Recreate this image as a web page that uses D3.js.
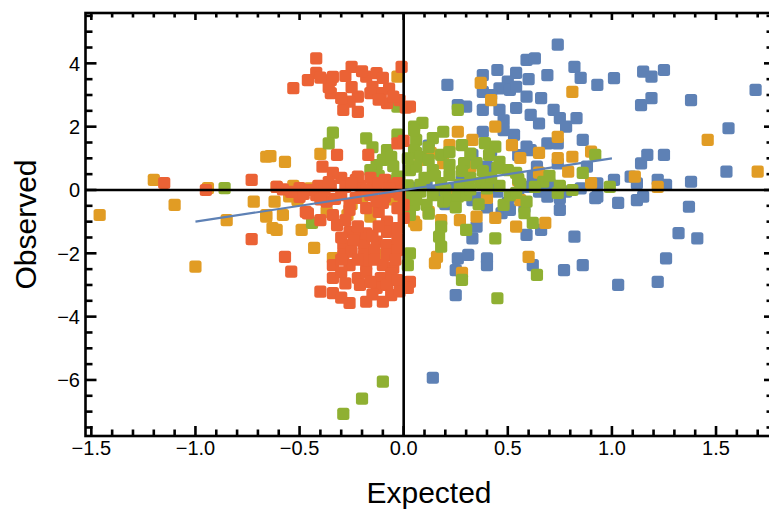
<!DOCTYPE html>
<html><head><meta charset="utf-8">
<script src="https://cdn.jsdelivr.net/npm/d3@7"></script>
<style>body{margin:0;background:#fff}svg{display:block}text{font-family:"Liberation Sans",Arial,sans-serif}</style>
</head><body><svg id="c" width="769" height="510"></svg>
<script>
const xTicks = [-1.5,-1.0,-0.5,0.0,0.5,1.0,1.5];
const yTicks = [-6,-4,-2,0,2,4];
const xRange = [-1.528, 1.764];
const yRange = [-7.77, 5.59];
const lineX = [-1, 1];
const lineY = [-1, 1];
const blue = [
[0.74,4.59],[0.59,4.11],[0.63,4.16],[0.45,3.79],[0.54,3.70],[0.82,3.89],[0.21,3.32],[0.38,3.63],[0.69,3.63],[0.85,3.54],
[0.50,3.42],[0.46,3.21],[0.51,3.16],[0.54,3.26],[0.59,2.95],[0.66,2.90],[0.93,3.32],[0.38,3.10],[0.26,2.68],[0.30,2.63],
[0.38,2.53],[0.46,2.53],[0.54,2.59],[0.61,2.37],[0.72,2.53],[0.75,2.27],[0.78,2.00],[0.83,2.27],[0.38,1.84],[0.48,1.89],
[0.53,1.74],[0.69,1.47],[0.74,1.47],[0.86,1.58],[0.61,1.26],[0.33,1.11],[0.40,0.74],[0.64,0.74],[0.62,0.42],[0.74,0.84],
[0.88,0.74],[1.15,3.74],[1.19,3.58],[1.25,3.79],[1.01,3.53],[1.14,2.68],[1.19,2.90],[1.38,2.84],[1.69,3.16],[1.56,1.95],
[1.14,0.84],[1.17,1.11],[1.25,1.11],[1.55,0.58],[1.38,0.26],[1.01,0.32],[0.93,0.21],[1.12,0.21],[1.09,0.42],[1.22,0.32],
[1.26,0.16],[0.93,-0.21],[1.03,-0.41],[1.12,-0.32],[1.15,-0.21],[1.37,-0.53],[1.32,-1.36],[1.41,-1.53],[1.26,-2.16],[1.03,-3.00],
[1.22,-2.90],[0.05,0.06],[0.11,0.16],[0.37,-0.25],[0.47,-0.73],[0.35,-1.16],[0.33,-1.53],[0.59,-1.42],[0.66,-1.26],[0.69,-0.21],
[0.75,-0.26],[0.75,-0.63],[0.78,-0.05],[0.92,-0.26],[0.82,-1.47],[0.26,-2.16],[0.31,-2.05],[0.40,-2.16],[0.40,-2.37],[0.25,-2.53],
[0.62,-2.37],[0.77,-2.53],[0.86,-2.37],[0.25,-3.32],[0.51,-0.63],[0.14,-5.93],[0.59,1.37],[0.33,-0.32],[0.15,-0.05],[0.25,0.05],
[0.45,-0.05],[0.60,0.10],[0.55,-0.20],[0.20,-0.45],[0.12,1.40],[0.30,-0.10],[0.42,0.12],[0.50,-0.40],[0.65,-0.05],[0.70,0.20],
[0.58,-0.55],[0.40,-0.55],[0.85,0.05],[0.28,0.30],[0.42,1.25],[0.55,1.10],[0.48,2.20],[0.65,2.10],[0.42,3.00],[0.60,3.50]
];
const orange = [
[-1.20,0.32],[-1.46,-0.79],[-1.10,-0.47],[-1.00,-2.42],[-0.72,-0.37],[-0.85,-0.95],[-0.66,-0.84],[-0.66,1.05],[-0.94,0.06],[-0.64,1.07],
[-0.57,0.89],[-0.40,1.14],[-0.53,0.13],[-0.03,3.58],[-0.62,-0.37],[-0.51,-0.32],[-0.66,-0.79],[-0.58,-0.79],[-0.63,-1.20],[-0.49,-1.26],
[-0.43,-1.83],[-0.34,-2.15],[-0.10,-2.05],[-0.27,-0.79],[-0.16,-0.84],[-0.15,-0.69],[-0.37,-0.69],[0.05,-1.00],[-0.61,0.10],[-0.61,-1.26],
[0.37,3.38],[0.42,2.84],[0.81,3.10],[0.44,2.00],[0.26,1.84],[0.52,1.42],[0.74,1.68],[0.22,1.42],[0.56,1.01],[0.65,1.17],
[0.74,1.01],[0.81,1.05],[0.79,0.58],[0.90,0.22],[0.90,1.21],[0.33,1.58],[0.13,1.17],[1.46,1.58],[1.70,0.58],[1.11,0.42],
[1.22,0.10],[0.12,-0.69],[0.06,-1.11],[0.27,-0.95],[0.35,-0.84],[0.44,-0.88],[0.54,-1.16],[0.68,-1.04],[0.16,-2.11],[0.15,-2.31],
[0.28,-2.62],[0.60,-2.11],[0.40,-0.25],[0.56,-0.32],[0.18,-0.95],[0.32,0.74],[0.19,0.85],[-0.45,0.05],[-0.25,-0.45],[-0.05,-0.30],
[0.25,-0.15],[0.55,0.30],[0.65,0.55],[-0.20,-0.25],[-0.55,-0.20],[0.08,0.95]
];
const green = [
[-0.34,1.81],[-0.36,1.47],[-0.18,1.63],[-0.08,1.26],[-0.10,0.95],[-0.06,1.05],[-0.13,0.79],[-0.16,0.63],[-0.03,2.63],[0.05,2.00],
[0.06,1.58],[0.06,1.17],[0.03,0.63],[-0.02,0.42],[0.26,2.53],[0.09,2.12],[0.05,1.89],[0.19,1.84],[0.14,1.64],[0.28,1.42],
[0.39,1.48],[0.44,1.37],[0.41,1.11],[0.05,1.26],[0.08,1.05],[0.18,1.11],[0.29,0.85],[0.35,0.85],[0.46,0.89],[0.06,0.74],
[0.14,0.63],[0.92,1.11],[0.86,0.54],[0.67,0.26],[0.50,0.63],[0.54,0.54],[0.08,0.16],[0.18,0.22],[0.27,0.16],[0.37,0.22],
[0.46,0.13],[0.56,0.19],[0.75,0.13],[0.22,0.47],[0.32,0.38],[0.42,0.38],[0.10,0.38],[0.03,-0.16],[0.08,-0.05],[0.14,-0.16],
[0.19,-0.37],[0.03,-0.79],[0.11,-0.47],[0.18,-1.16],[0.17,-1.47],[0.18,-1.79],[0.30,-1.26],[0.44,-1.53],[0.03,-2.00],[0.02,-2.37],
[0.28,-2.84],[0.45,-3.42],[0.64,-2.68],[0.62,-1.04],[0.58,-0.73],[0.48,-0.47],[0.59,-0.37],[0.22,-0.32],[0.26,-0.21],[0.30,-0.16],
[0.51,-0.16],[0.54,-0.09],[0.74,-0.09],[0.81,0.00],[-0.44,-1.04],[0.05,-0.47],[-0.86,0.06],[0.99,0.10],[-0.10,-6.05],[-0.20,-6.59],
[-0.29,-7.07],[-0.05,0.75],[-0.03,0.40],[-0.08,0.30],[0.02,1.00],[0.12,1.35],[0.22,1.20],[0.32,1.15],[0.12,0.95],[0.22,0.80],
[0.38,0.60],[0.02,0.15],[0.15,0.45],[0.28,0.60],[0.45,0.70],[0.55,0.35],[0.63,0.10],[0.70,0.45],[0.40,0.05],[0.20,0.00],
[0.32,0.02],[0.06,-0.30],[0.12,-0.75],[0.25,-0.55],[0.36,-0.45],[-0.12,0.45],[-0.15,1.35],[-0.03,1.75]
];
const red = [
[-0.42,4.16],[-0.25,3.89],[-0.01,3.89],[-0.42,3.70],[-0.46,3.47],[-0.53,3.22],[-0.35,3.47],[-0.34,3.57],[-0.35,3.06],[-0.36,3.25],
[-0.18,3.58],[-0.13,3.69],[-0.10,3.54],[-0.15,3.26],[-0.11,3.06],[-0.16,3.06],[-0.22,2.95],[-0.26,2.79],[-0.29,2.53],[-0.22,2.47],
[-0.08,2.74],[0.03,2.63],[-0.02,2.84],[-0.03,1.47],[-0.32,1.11],[-0.17,1.11],[-0.39,0.74],[-0.73,0.32],[-0.30,0.38],[-0.23,0.32],
[-0.16,0.38],[-0.09,0.32],[-0.03,0.22],[-0.35,0.13],[-0.41,0.13],[-0.50,0.06],[-0.21,0.13],[-0.14,0.06],[-0.05,0.13],[-0.61,0.10],
[-0.95,0.00],[-1.15,0.22],[-0.73,-1.55],[-0.57,-2.11],[-0.54,-2.58],[-0.42,-0.16],[-0.37,-0.37],[-0.47,-0.69],[-0.34,-0.79],[-0.32,-1.11],
[-0.26,-1.32],[-0.21,-1.42],[-0.08,-1.00],[-0.08,-1.32],[-0.29,-1.74],[-0.19,-1.74],[-0.13,-1.63],[-0.08,-1.74],[-0.29,-2.05],[-0.19,-2.05],
[-0.08,-2.05],[-0.34,-2.37],[-0.26,-2.37],[-0.18,-2.37],[-0.10,-2.37],[-0.05,-2.46],[-0.34,-2.78],[-0.22,-2.78],[-0.11,-2.78],[-0.40,-3.21],
[-0.34,-3.26],[-0.21,-3.00],[-0.13,-3.09],[-0.08,-3.00],[-0.06,-3.32],[-0.26,-3.57],[-0.18,-3.53],[-0.10,-3.53],[0.03,-2.90],[0.02,-3.09],
[0.00,-0.88],[0.00,-0.47],[-0.03,-0.57],[-0.30,-0.16],[-0.23,-0.25],[-0.16,-0.16],[-0.09,-0.22],[-0.26,-0.63],[-0.18,-0.57],[-0.12,-0.69],
[-0.50,-0.22],[-0.54,-0.06],[-0.45,0.00],[-0.38,0.00],[-0.04,-0.06],[-0.34,0.54],[-0.22,0.42],[-0.18,-1.37],[-0.46,-0.74],[-0.10,-0.41],
[-0.26,-0.47],[0.01,2.60],[0.00,1.55],[-0.30,-1.50],[-0.24,-1.60],[-0.15,-1.45],[-0.03,-1.55],[-0.25,-1.95],[-0.14,-1.90],[-0.03,-1.90],
[-0.30,-2.20],[-0.22,-2.20],[-0.14,-2.20],[-0.04,-2.20],[-0.30,-2.60],[-0.18,-2.60],[-0.06,-2.65],[-0.28,-2.95],[-0.16,-2.90],[-0.03,-2.85],
[-0.30,-3.40],[-0.15,-3.30],[-0.02,-3.20],[-0.22,-1.15],[-0.12,-1.15],[-0.03,-1.20],[-0.40,-0.95],[-0.28,-0.95],[-0.28,0.10],[-0.12,0.22],
[-0.02,-0.15],[-0.33,-0.28],[-0.40,-0.30],[-0.18,0.00],[-0.07,0.05],[-0.58,0.02],[-0.48,-0.12],[-0.36,0.25],[-0.25,0.22],[-0.13,-0.35],
[-0.28,3.60],[-0.20,3.75],[-0.07,3.20],[-0.25,3.25],[-0.30,2.90],[-0.05,2.95],[-0.12,2.85],[-0.40,3.55]
];
const seriesList = [
  {data: blue, color: "#5E81B5"},
  {data: orange, color: "#E19C24"},
  {data: green, color: "#8FB032"},
  {data: red, color: "#EB6235"}
];

const svg = d3.select("#c");
const L = 85.5, R = 771, T = 13, B = 436;
const x = d3.scaleLinear().domain(xRange).range([L, R]);
const y = d3.scaleLinear().domain(yRange).range([B, T]);
const fmtX = v => d3.format(".1f")(v).replace("-", "\u2212");
const fmtY = v => d3.format("d")(v).replace("-", "\u2212");

const S = 12.2;
const gPts = svg.append("g");
seriesList.forEach(s => {
  gPts.selectAll(null).data(s.data).enter().append("rect")
    .attr("x", d => x(d[0]) - S/2).attr("y", d => y(d[1]) - S/2)
    .attr("width", S).attr("height", S).attr("rx", 2.5)
    .attr("fill", s.color);
});

svg.append("line").attr("x1", x(0)).attr("x2", x(0)).attr("y1", T).attr("y2", B)
  .attr("stroke", "#000").attr("stroke-width", 2.6);
svg.append("line").attr("x1", L).attr("x2", R).attr("y1", y(0)).attr("y2", y(0))
  .attr("stroke", "#000").attr("stroke-width", 2.6);

svg.append("path").datum(d3.zip(lineX, lineY))
  .attr("d", d3.line().x(d => x(d[0])).y(d => y(d[1])))
  .attr("stroke", "#5E81B5").attr("stroke-width", 2.2).attr("fill", "none");

svg.append("rect").attr("x", L).attr("y", T).attr("width", R - L).attr("height", B - T)
  .attr("fill", "none").attr("stroke", "#000").attr("stroke-width", 2.6);

const isMajorX = v => xTicks.some(t => Math.abs(t - v) < 1e-6);
const isMajorY = v => yTicks.some(t => Math.abs(t - v) < 1e-6);
const xMinor = d3.range(-15, 18).map(i => i / 10).filter(v => !isMajorX(v) && v >= xRange[0] && v <= xRange[1]);
const yMinor = d3.range(-15, 12).map(i => i / 2).filter(v => !isMajorY(v) && v >= yRange[0] && v <= yRange[1]);
const gt = svg.append("g").attr("stroke", "#000").attr("stroke-width", 2.6);
function xt(vals, len, lenTop) {
  vals.forEach(v => {
    gt.append("line").attr("x1", x(v)).attr("x2", x(v)).attr("y1", B).attr("y2", B - len);
    gt.append("line").attr("x1", x(v)).attr("x2", x(v)).attr("y1", T).attr("y2", T + lenTop);
  });
}
function yt(vals, len, lenR) {
  vals.forEach(v => {
    gt.append("line").attr("x1", L).attr("x2", L + len).attr("y1", y(v)).attr("y2", y(v));
    gt.append("line").attr("x1", R).attr("x2", R - lenR).attr("y1", y(v)).attr("y2", y(v));
  });
}
xt(xTicks, 10, 7); xt(xMinor, 6.5, 4.5);
yt(yTicks, 11, 7); yt(yMinor, 7, 4.5);

svg.append("g").selectAll("text").data(xTicks).enter().append("text")
  .attr("x", d => x(d)).attr("y", 455).attr("text-anchor", "middle")
  .attr("font-size", 20).attr("fill", "#000").text(fmtX);
svg.append("g").selectAll("text").data(yTicks).enter().append("text")
  .attr("x", 80).attr("y", d => y(d) + 7.3).attr("text-anchor", "end")
  .attr("font-size", 20).attr("fill", "#000").text(fmtY);

svg.append("text").attr("x", 429).attr("y", 503).attr("text-anchor", "middle")
  .attr("font-size", 30).attr("fill", "#000").text("Expected");
svg.append("text").attr("transform", "translate(36,224.5) rotate(-90)").attr("text-anchor", "middle")
  .attr("font-size", 30).attr("fill", "#000").text("Observed");
</script></body></html>
